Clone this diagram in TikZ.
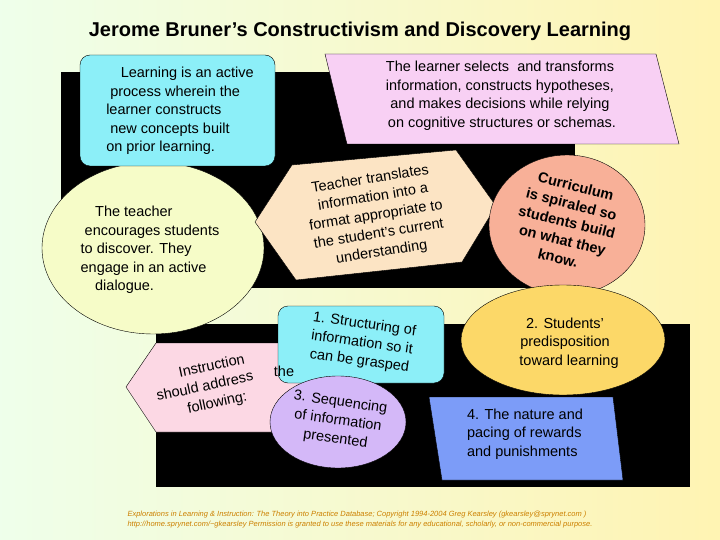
\documentclass[tikz,border=0pt]{standalone}
\usepackage{fontspec}
\setmainfont{Liberation Sans}
\usetikzlibrary{shapes.geometric}
\definecolor{cyanbox}{HTML}{8CEFF8}
\definecolor{pinkbox}{HTML}{F8D0F4}
\definecolor{peach}{HTML}{FCE4C4}
\definecolor{salmon}{HTML}{F8B098}
\definecolor{paleyel}{HTML}{F6FCC8}
\definecolor{pinkhex}{HTML}{FCD8E4}
\definecolor{lav}{HTML}{D4B8F8}
\definecolor{gold}{HTML}{FCD868}
\definecolor{bluebox}{HTML}{7C9CF8}
\begin{document}
\begin{tikzpicture}[x=1pt,y=-1pt,
  txt/.style={font=\fontsize{14.5}{18.5}\selectfont,align=center,inner sep=0pt},
  bx/.style={draw=black,line width=0.4pt}]
\useasboundingbox (0,0) rectangle (720,540);
\shade[left color=yellow!18!green!8!white, right color=orange!30!yellow!30!white] (0,0) rectangle (720,540);
\node[font=\bfseries\fontsize{20}{24}\selectfont] (title) at (360,31) {Jerome Bruner’s Constructivism and Discovery Learning};
% black panels
\fill[black] (61,72) rectangle (575,288);
\fill[black] (156,324) rectangle (690,487);
% teacher circle
\draw[bx,fill=paleyel] (153,248) ellipse [x radius=111,y radius=86];
\node[txt,align=left] (teach) at (150,250) {\quad The teacher\\ \ encourages students\\to discover. They\\engage in an active\\ \quad dialogue.};
% cyan box
\draw[bx,fill=cyanbox,rounded corners=10pt] (80,55) rectangle (275,166);
\node[txt,align=left] (learn) at (180,111) {\quad Learning is an active\\ \ process wherein the\\ learner constructs\\ \ new concepts built\\on prior learning.};
% pink parallelogram
\draw[bx,fill=pinkbox] (325,54) -- (656,54) -- (679,144) -- (347,144) -- cycle;
\node[txt] (select) at (500,96) {The learner selects \ and transforms\\information, constructs hypotheses,\\and makes decisions while relying\\ \ on cognitive structures or schemas.};
% hexagon
\draw[bx,fill=peach] (255,222) -- (292,165) -- (456,150) -- (496,206) -- (462,262) -- (296,280) -- cycle;
\node[txt,rotate=9] (transl) at (376,216) {Teacher translates\\information into a\\format appropriate to\\the student’s current\\understanding};
% curriculum
\draw[bx,fill=salmon] (567,225) ellipse [x radius=78,y radius=70];
\node[txt,rotate=-14,font=\bfseries\fontsize{14.5}{18.5}\selectfont] (curr) at (567,222) {Curriculum\\is spiraled so\\students build\\on what they\\know.};
% bottom
\draw[bx,fill=pinkhex] (126,387) -- (156,343) -- (280,343) -- (310,387) -- (280,432) -- (156,432) -- cycle;
\node[txt,rotate=12] (instr) at (205,387) {\hspace*{1.5em}Instruction\\should address\\\hspace*{1.2em}following:};
\draw[bx,fill=cyanbox,rounded corners=10pt] (278,306) rectangle (444,383);
\node[txt,rotate=-8] (s1) at (362,343) {1. Structuring of\\information so it\\can be grasped};
\draw[bx,fill=lav] (338,422) ellipse [x radius=68,y radius=46];
\node[txt,rotate=-8] (s3) at (338,421) {3. Sequencing\\of information\\presented};
\node[txt] (the) at (284,371) {the};
\draw[bx,fill=gold] (563,340) ellipse [x radius=102,y radius=55];
\node[txt] (s2) at (565,343) {2. Students’\\predisposition\\\ \ toward learning};
\draw[bx,fill=bluebox] (429,397) -- (613,397) -- (623,480) -- (442,480) -- cycle;
\node[txt,align=left] (s4) at (525,434) {4. The nature and\\pacing of rewards\\and punishments};
\node[font=\itshape\fontsize{7.5}{10}\selectfont,text=orange!60!olive,align=left] (foot) at (360,520) {Explorations in Learning \& Instruction: The Theory into Practice Database; Copyright 1994-2004 Greg Kearsley (gkearsley@sprynet.com )\\http://home.sprynet.com/\textasciitilde gkearsley Permission is granted to use these materials for any educational, scholarly, or non-commercial purpose.};
\end{tikzpicture}
\end{document}
